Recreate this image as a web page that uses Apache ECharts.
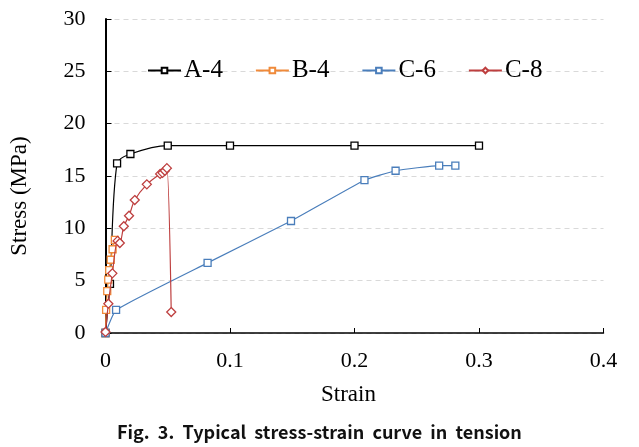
<!DOCTYPE html>
<html>
<head>
<meta charset="utf-8">
<script src="https://cdn.jsdelivr.net/npm/echarts@6/dist/echarts.min.js"></script>
<style>html,body{margin:0;padding:0;background:#fff;}#c{width:639px;height:447px;}</style>
</head>
<body>
<div id="c"></div>
<script>
var seriesNames = ['A-4', 'B-4', 'C-6', 'C-8'];
var strainA4 = [0, 0.0036, 0.0093, 0.020, 0.050, 0.1, 0.2, 0.3];
var stressA4 = [0, 4.7, 16.2, 17.1, 17.9, 17.9, 17.9, 17.9];
var strainB4 = [0, 0.0005, 0.0014, 0.0022, 0.0030, 0.0042, 0.0057, 0.0075];
var stressB4 = [0, 2.2, 4.0, 5.1, 6.0, 7.0, 8.0, 8.9];
var strainC6 = [0, 0.0085, 0.082, 0.149, 0.208, 0.233, 0.268, 0.281];
var stressC6 = [0, 2.2, 6.7, 10.7, 14.6, 15.5, 16.0, 16.0];
var strainC8 = [0, 0.0023, 0.0055, 0.0097, 0.0115, 0.0147, 0.0189, 0.0235, 0.0332, 0.0439, 0.0458, 0.0477, 0.0493, 0.0528];
var stressC8 = [0.1, 2.8, 5.7, 8.8, 8.6, 10.2, 11.2, 12.7, 14.2, 15.2, 15.3, 15.5, 15.75, 2.0];
var xTicks = [0, 0.1, 0.2, 0.3, 0.4];
var yTicks = [0, 5, 10, 15, 20, 25, 30];

function pairs(xs, ys) { return xs.map(function (x, i) { return [x, ys[i]]; }); }

var colors = ['#000000', '#F08A3A', '#4A7EBB', '#BE3F3F'];
var symbols = ['rect', 'rect', 'rect', 'diamond'];
var sizes = [7, 7, 7, 9];
var smooths = [0.3, 0.3, 0.12, 0.3];
var datas = [pairs(strainA4, stressA4), pairs(strainB4, stressB4), pairs(strainC6, stressC6), pairs(strainC8, stressC8)];

var serif = 'Liberation Serif';
var chart = echarts.init(document.getElementById('c'), null, { renderer: 'canvas' });
chart.setOption({
  backgroundColor: '#fff',
  animation: false,
  title: {
    text: 'Fig.  3.  Typical  stress-strain  curve  in  tension',
    left: 'center', top: 418,
    textStyle: { fontFamily: 'Noto Sans CJK KR', fontWeight: 'bold', fontSize: 18, color: '#111' }
  },
  graphic: [{
    type: 'text',
    x: 20, y: 196, rotation: Math.PI / 2,
    style: { text: 'Stress (MPa)', fontFamily: serif, fontSize: 23, fill: '#000', align: 'center', verticalAlign: 'middle' }
  }],
  legend: {
    left: 142, top: 53,
    itemWidth: 33, itemHeight: 7, itemGap: 32,
    textStyle: { fontFamily: serif, fontSize: 25, color: '#000', padding: [0, 0, 0, -2] },
    data: seriesNames
  },
  grid: { left: 105.5, right: 35.5, top: 19, bottom: 114, containLabel: false },
  xAxis: {
    type: 'value', min: 0, max: 0.4, interval: 0.1,
    name: 'Strain', nameLocation: 'middle', nameGap: 50,
    nameTextStyle: { fontFamily: serif, fontSize: 23, color: '#000', padding: [0, 12, 0, 0] },
    axisLine: { lineStyle: { color: '#000', width: 1.5 } },
    axisTick: { inside: true, length: 5, lineStyle: { color: '#000' } },
    axisLabel: { fontFamily: serif, fontSize: 22, color: '#000', margin: 17,
      formatter: function (v) { return String(v); } },
    splitLine: { show: false }
  },
  yAxis: {
    type: 'value', min: 0, max: 30, interval: 5,
    axisLine: { show: true, lineStyle: { color: '#000', width: 2 } },
    axisTick: { show: true, inside: true, length: 6, lineStyle: { color: '#000' } },
    axisLabel: { fontFamily: serif, fontSize: 22, color: '#000', margin: 20 },
    splitLine: { show: true, lineStyle: { color: '#d9d9d9', type: [5, 4], width: 1 } }
  },
  series: seriesNames.map(function (n, i) {
    return {
      name: n, type: 'line', data: datas[i],
      smooth: smooths[i],
      symbol: symbols[i], symbolSize: sizes[i],
      itemStyle: { color: '#fff', borderColor: colors[i], borderWidth: 1.3 },
      lineStyle: { color: colors[i], width: 1.2 },
      z: 2 + i
    };
  })
});
</script>
</body>
</html>
